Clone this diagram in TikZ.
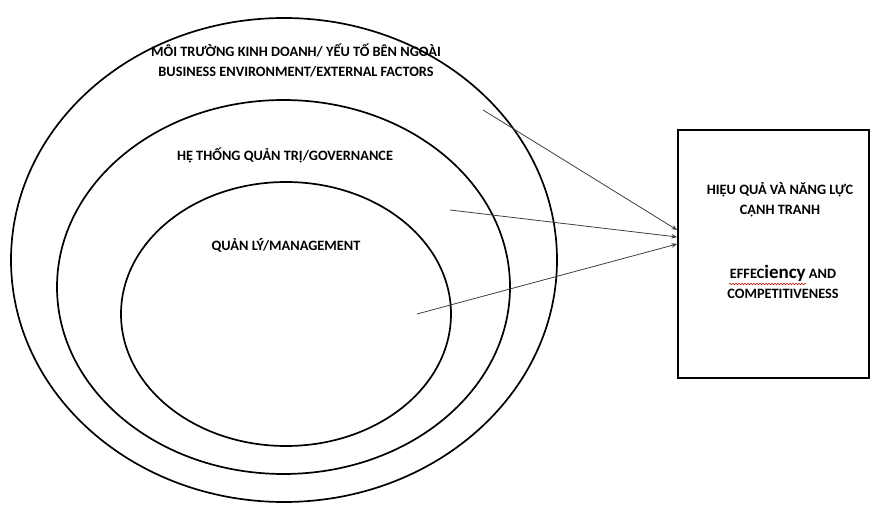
\documentclass[tikz,border=0pt]{standalone}
\usepackage{fontspec}
\setmainfont{Carlito}
\usetikzlibrary{arrows.meta,shapes.geometric,calc,decorations.pathmorphing}

\begin{document}
\begin{tikzpicture}[
  x=1pt, y=-1pt,
  font=\bfseries\fontsize{14.3}{20}\selectfont,
  ring/.style={draw, ellipse, line width=1.7pt, inner sep=0pt},
  box/.style={draw, rectangle, line width=1.7pt, inner sep=0pt},
  lbl/.style={align=center, inner sep=0pt},
  arr/.style={-{Stealth[length=2mm, width=1.6mm]}, line width=0.8pt, black!75},
  wavy/.style={draw=red!80!black, line width=0.5pt,
    decorate, decoration={snake, segment length=3pt, amplitude=0.8pt}}
]
  \useasboundingbox (0,0) rectangle (871,505);

  % nested circles
  \node[ring, minimum width=546, minimum height=484] (env) at (284,260) {};
  \node[ring, minimum width=453, minimum height=374] (gov) at (283.5,287) {};
  \node[ring, minimum width=330, minimum height=264] (mgt) at (286,314) {};

  \node[lbl] (envtxt) at (296,60)
    {MÔI TRƯỜNG KINH DOANH/ YẾU TỐ BÊN NGOÀI\\BUSINESS ENVIRONMENT/EXTERNAL FACTORS};
  \node[lbl] (govtxt) at (285,155) {HỆ THỐNG QUẢN TRỊ/GOVERNANCE};
  \node[lbl] (mgttxt) at (286,245) {QUẢN LÝ/MANAGEMENT};

  % result box
  \node[box, minimum width=191, minimum height=248] (res) at (773.5,254) {};
  \node[lbl] (resvn) at (780,200) {HIỆU QUẢ VÀ NĂNG LỰC\\CẠNH TRANH};
  \node[lbl] (resen) at (783,282)
    {EFFEC{\fontsize{19}{20}\selectfont iency} AND\\COMPETITIVENESS};
  \draw[wavy] (729,284) -- (806,284);

  % arrows
  \coordinate (senv) at (483,110);
  \coordinate (sgov) at (450,210);
  \coordinate (smgt) at (417,314);
  \draw[arr] (senv) -- ([yshift=24pt]res.west);
  \draw[arr] (sgov) -- ([yshift=17pt]res.west);
  \draw[arr] (smgt) -- ([yshift=10pt]res.west);
\end{tikzpicture}
\end{document}
